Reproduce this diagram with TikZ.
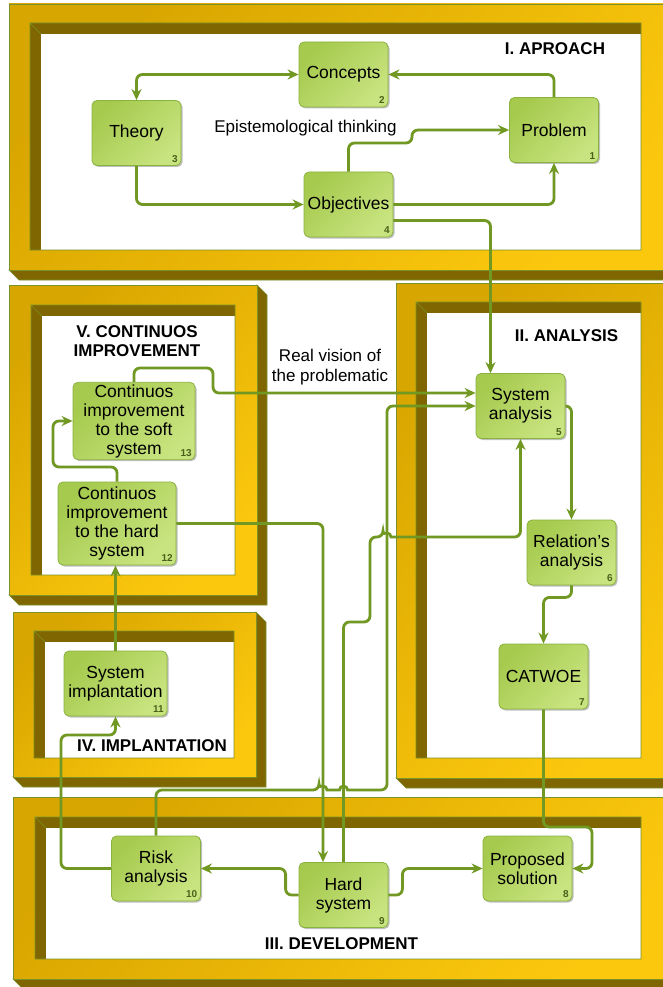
\documentclass[tikz,border=0pt]{standalone}
\usepackage{fontspec}
\setmainfont{Liberation Sans}
\usetikzlibrary{arrows.meta,shadows}

\definecolor{lineGreen}{RGB}{112,152,34}
\definecolor{boxEdge}{RGB}{138,178,62}
\definecolor{boxA}{RGB}{166,202,78}
\definecolor{boxB}{RGB}{200,228,128}
\definecolor{numGreen}{RGB}{72,98,26}
\definecolor{goldA}{RGB}{216,166,0}
\definecolor{goldB}{RGB}{252,200,14}
\definecolor{frameDark}{RGB}{128,102,0}
\definecolor{frameEdge}{RGB}{122,146,40}

\begin{document}
\begin{tikzpicture}[x=1pt, y=-1pt, >={Stealth[length=11pt,width=10pt]}]

% styles
\tikzset{
  stage/.style={rectangle, rounded corners=5pt, draw=boxEdge, line width=0.8pt,
    top color=boxA, bottom color=boxB, shading angle=45,
    drop shadow={shadow xshift=1.5pt, shadow yshift=-1.5pt, opacity=0.25, fill=black},
    minimum width=89pt, minimum height=65pt, inner sep=2pt, align=center,
    font=\fontsize{17.5}{19}\selectfont},
  num/.style={font=\bfseries\fontsize{10}{10}\selectfont, text=numGreen,
    anchor=south east, inner sep=3.5pt},
  title/.style={font=\bfseries\fontsize{17}{19}\selectfont, align=center},
  note/.style={font=\fontsize{17}{20}\selectfont, align=center},
  link/.style={draw=lineGreen, line width=2.8pt, rounded corners=6pt}
}

\useasboundingbox (0,0) rectangle (663,987);
\fill[white] (0,0) rectangle (663,987);
\clip (0,0) rectangle (663,987);

% ===== frames (outer face / opening) =====
\foreach \xo/\yo/\xe/\ye/\xi/\yi/\xj/\yj in {
  9/4/690/270/30/23/641/250,
  9/285/257/595/31/305/235/575,
  396/283/690/778/416/302/641/758,
  13/612/256/777/34/631/234/758,
  13/797/690/979/35/817/641/959
} {
  \filldraw[frameDark, draw=frameEdge, line width=0.6pt] (\xo,\ye) -- (\xe,\ye) -- (\xe,\yo)
    -- (\xe+10,\yo+10) -- (\xe+10,\ye+10) -- (\xo+10,\ye+10) -- cycle;
  \shadedraw[top color=goldA, bottom color=goldB, shading angle=45,
    draw=frameEdge, line width=0.6pt] (\xo,\yo) rectangle (\xe,\ye);
  \fill[frameDark] (\xi,\yj) -- (\xi,\yi) -- (\xj,\yi) -- (\xj,\yi+11)
    -- (\xi+11,\yi+11) -- (\xi+11,\yj) -- cycle;
  \fill[white] (\xi+11,\yi+11) rectangle (\xj,\yj);
  \draw[frameEdge, line width=0.6pt] (\xi,\yi) rectangle (\xj,\yj)
    (\xi,\yi) -- (\xi+11,\yi+11);
}

% ===== stages =====
\node[stage, label={[num]south east:1}] (problem) at (554,130) {Problem};
\node[stage, label={[num]south east:2}] (concepts) at (343.5,74.5) {Concepts};
\node[stage, label={[num]south east:3}] (theory) at (136.5,133) {Theory};
\node[stage, label={[num]south east:4}] (objectives) at (348.5,204.5) {Objectives};
\node[stage, label={[num]south east:5}] (sysan) at (520.5,406) {System\\analysis};
\node[stage, label={[num]south east:6}] (relan) at (571.5,552.5) {Relation’s\\analysis};
\node[stage, label={[num]south east:7}] (catwoe) at (543.5,676.5) {CATWOE};
\node[stage, label={[num]south east:8}] (proposed) at (527.5,868.5) {Proposed\\solution};
\node[stage, label={[num]south east:9}] (hard) at (343.5,895) {Hard\\system};
\node[stage, label={[num]south east:10}] (risk) at (156,868.5) {Risk\\analysis};
\node[stage, minimum width=103pt, label={[num]south east:11}] (implant) at (115.5,683.5) {System\\implantation};
\node[stage, minimum width=118pt, minimum height=83pt, label={[num]south east:12}] (improvehard) at (117,523.5)
  {Continuos\\improvement\\to the hard\\system};
\node[stage, minimum width=122pt, minimum height=76pt, label={[num]south east:13}] (improvesoft) at (134,421)
  {Continuos\\improvement\\to the soft\\system};

% ===== titles and notes =====
\node[title] (aproach) at (555,49) {I. APROACH};
\node[title] (analysis) at (566.5,336) {II. ANALYSIS};
\node[title] (development) at (341.5,944) {III. DEVELOPMENT};
\node[title] (implantation) at (152,746) {IV. IMPLANTATION};
\node[title] (improvement) at (137,341) {V. CONTINUOS\\IMPROVEMENT};
\node[note] (thinking) at (305.5,128) {Epistemological thinking};
\node[note] (vision) at (330,367) {Real vision of\\the problematic};

% ===== connectors =====
\draw[link, <->] (concepts.west) -| (theory.north);
\draw[link, ->] (problem.north) |- (concepts.east);
\draw[link, ->] (theory.south) |- (objectives.west);
\draw[link, ->] (objectives.north) |- (412,143) |- (problem.west);
\draw[link, ->] (objectives.east) -| (problem.south);
\draw[link, ->] ([yshift=-16pt]objectives.east) -| ([xshift=-30pt]sysan.north);
\draw[link, ->] (sysan.east) -| (relan.north);
\draw[link, ->] (relan.south) -- ++(0,12) -| (catwoe.north);
\draw[link, ->] (catwoe.south) |- (592,827) |- (proposed.east);
\draw[link, ->] (hard.east) -- ++(14,0) |- (proposed.west);
\draw[link, ->] (hard.west) -- ++(-13,0) |- (risk.east);
\draw[link, ->] (risk.west) -| (61,735) -| (implant.south);
\draw[link, ->] (implant.north) -- (implant.north |- improvehard.south);
\draw[link, ->] (improvehard.north) |- (53,467) |- (improvesoft.west);
\draw[link, ->] (improvesoft.north) |- (213,368) |- ([yshift=13pt]sysan.west);
\draw[link, ->] (improvehard.east) -| ([xshift=-20.5pt]hard.north);
\draw[link, ->] (hard.north) |- (370,622) -- (370,537) -- (383,537)
  [sharp corners] arc[start angle=180, end angle=360, radius=4]
  [rounded corners=6pt] -| (sysan.south);
\draw[link, ->] (risk.north) |- (319,790)
  [sharp corners] arc[start angle=180, end angle=360, radius=4] -- (339.5,790)
  arc[start angle=180, end angle=360, radius=4]
  [rounded corners=6pt] -- (387,790) |- (sysan.west);

\end{tikzpicture}
\end{document}
